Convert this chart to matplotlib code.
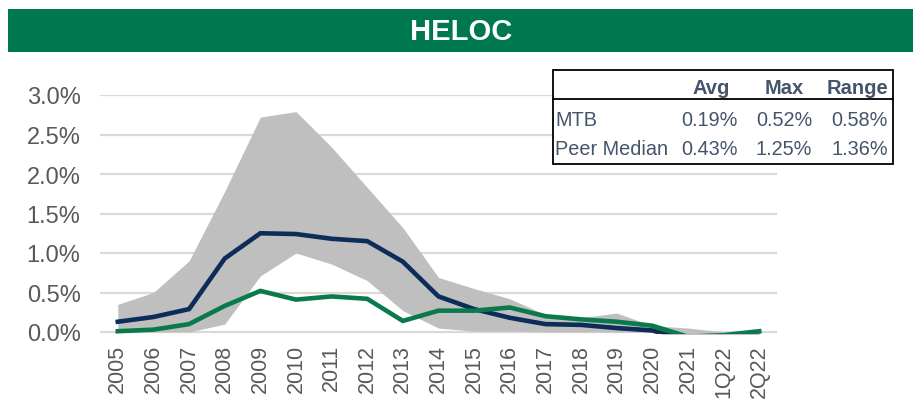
"""HELOC net charge-off chart: MTB vs peer median with peer range band."""

import matplotlib

matplotlib.use("Agg")
import matplotlib.pyplot as plt
import numpy as np
from matplotlib.patches import Rectangle
from matplotlib.lines import Line2D

plt.rcParams["font.family"] = ["Liberation Sans", "DejaVu Sans"]

periods = ["2005", "2006", "2007", "2008", "2009", "2010", "2011", "2012", "2013",
           "2014", "2015", "2016", "2017", "2018", "2019", "2020", "2021", "1Q22", "2Q22"]
peer_high = [0.35, 0.50, 0.90, 1.78, 2.72, 2.79, 2.34, 1.83, 1.32, 0.69,
             0.55, 0.42, 0.22, 0.18, 0.24, 0.08, 0.05, 0.00, 0.00]
peer_low = [0.00, 0.00, 0.00, 0.10, 0.71, 1.00, 0.86, 0.65, 0.27, 0.05,
            0.01, 0.01, 0.00, 0.00, 0.00, 0.00, -0.10, -0.08, -0.08]
peer_median = [0.13, 0.19, 0.29, 0.93, 1.25, 1.24, 1.18, 1.15, 0.89, 0.45,
               0.29, 0.18, 0.10, 0.09, 0.05, 0.02, -0.11, -0.05, -0.05]
mtb = [0.01, 0.03, 0.10, 0.33, 0.52, 0.41, 0.45, 0.42, 0.14, 0.27,
       0.27, 0.31, 0.20, 0.16, 0.13, 0.08, -0.06, -0.04, 0.01]

table_cols = ["Avg", "Max", "Range"]
table_rows = ["MTB", "Peer Median"]
table_vals = [["0.19%", "0.52%", "0.58%"],
              ["0.43%", "1.25%", "1.36%"]]

W, H = 913, 402
GREEN = "#00784F"
NAVY = "#0B2D57"
MTB_GREEN = "#0A7A4C"
TXT = "#44546A"


def fx(px):
    return px / W


def fy(py):
    return 1 - py / H


fig = plt.figure(figsize=(W / 100, H / 100), dpi=100)

# title bar
fig.patches.append(Rectangle((fx(8), fy(53)), fx(905), 43 / H, transform=fig.transFigure,
                             facecolor=GREEN, edgecolor="none"))
fig.text(fx(461), fy(32), "HELOC", color="white", fontsize=21, fontweight="bold",
         ha="center", va="center")

ymin = -0.03
bottom_px = 333 + 0.03 * 79
ax = fig.add_axes([fx(100), fy(bottom_px), fx(677), (bottom_px - 96) / H])
x = np.arange(len(periods))
ax.fill_between(x, peer_low, peer_high, color="#BFBFBF", linewidth=0, zorder=1)
ax.plot(x, peer_median, color=NAVY, lw=3.3, zorder=3, solid_joinstyle="miter")
ax.plot(x, mtb, color=MTB_GREEN, lw=3.3, zorder=4, solid_joinstyle="miter")

ax.set_xlim(-0.5, len(periods) - 0.5)
ax.set_ylim(ymin, 3.0)
ax.set_yticks(np.arange(0, 3.01, 0.5))
ax.set_yticklabels([f"{v:.1f}%" for v in np.arange(0, 3.01, 0.5)])
ax.set_xticks(x)
ax.set_xticklabels(periods, rotation=90)
ax.yaxis.grid(True, color="#D9D9D9", lw=1.6, zorder=0)
ax.set_axisbelow(True)
for s in ax.spines.values():
    s.set_visible(False)
ax.tick_params(axis="y", length=0, pad=14, labelsize=17, labelcolor="#595959")
ax.tick_params(axis="x", length=0, pad=7, labelsize=15.5, labelcolor="#595959")

# summary table
fig.patches.append(Rectangle((fx(553), fy(165)), fx(340), 94 / H, transform=fig.transFigure,
                             facecolor="white", edgecolor="black", lw=1.3, zorder=5))
fig.lines.append(Line2D([fx(553), fx(893)], [fy(100), fy(100)], transform=fig.transFigure,
                        color="black", lw=1.3, zorder=6))
col_right = [738, 812, 888]
head_right = [730, 804, 888]
for cx, name in zip(head_right, table_cols):
    fig.text(fx(cx), fy(88), name, color=TXT, fontsize=14.5, fontweight="bold",
             ha="right", va="center", zorder=7)
for ry, rname, vals in zip([121, 150], table_rows, table_vals):
    fig.text(fx(555), fy(ry), rname, color=TXT, fontsize=14.3, ha="left", va="center", zorder=7)
    for cx, v in zip(col_right, vals):
        fig.text(fx(cx), fy(ry), v, color=TXT, fontsize=14.3, ha="right", va="center", zorder=7)

fig.savefig("out.png", dpi=100)
